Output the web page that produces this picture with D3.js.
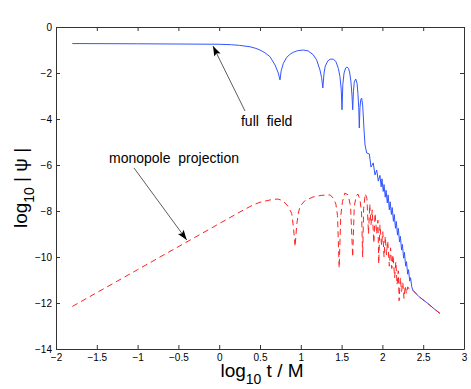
<!DOCTYPE html>
<html lang="en">
<head>
<meta charset="UTF-8">
<title>log10 |psi| vs log10 t/M</title>
<script src="https://cdn.jsdelivr.net/npm/d3@7/dist/d3.min.js"></script>
<style>
  body { margin: 0; background: #fff; }
  svg { display: block; font-family: "Liberation Sans", Arial, sans-serif; }
</style>
</head>
<body>
<script>
// full field curve as [log10 t/M, log10 |psi|]
const fullField = [
  [-1.8, -0.72], [-1.0, -0.73], [0.0, -0.75], [0.15, -0.77], [0.25, -0.8], [0.377, -0.86],
  [0.45, -0.93], [0.5, -1.0], [0.56, -1.12], [0.622, -1.29], [0.684, -1.65], [0.724, -2.0],
  [0.745, -2.3], [0.76, -1.9], [0.786, -1.58], [0.827, -1.32], [0.87, -1.18], [0.908, -1.1],
  [0.96, -1.03], [1.03, -1.0], [1.09, -1.04], [1.15, -1.2], [1.194, -1.43], [1.235, -1.87],
  [1.255, -2.2], [1.27, -2.65], [1.285, -2.0], [1.3, -1.7], [1.33, -1.48], [1.36, -1.4],
  [1.398, -1.4], [1.43, -1.5], [1.46, -1.8], [1.48, -2.16], [1.495, -2.7], [1.505, -3.6],
  [1.515, -2.5], [1.53, -2.0], [1.55, -1.78], [1.566, -1.74], [1.585, -1.8], [1.6, -2.0],
  [1.615, -2.4], [1.628, -3.0], [1.636, -3.6], [1.645, -2.8], [1.655, -2.4], [1.673, -2.26],
  [1.69, -2.45], [1.7, -2.9], [1.71, -3.5], [1.717, -4.39], [1.725, -3.5], [1.735, -3.15],
  [1.746, -3.09], [1.758, -3.4], [1.768, -4.0], [1.775, -4.48], [1.787, -5.13], [1.808, -5.48],
  [1.84, -5.52], [1.86, -6.09], [1.888, -5.91], [1.909, -6.43], [1.93, -6.22], [1.95, -6.7],
  [1.97, -6.45], [1.985, -6.95], [1.995, -6.6], [2.01, -7.15], [2.02, -6.85], [2.035, -7.4],
  [2.045, -7.1], [2.06, -7.65], [2.07, -7.3], [2.085, -7.95], [2.095, -7.6], [2.11, -8.15],
  [2.12, -7.85], [2.135, -8.45], [2.145, -8.15], [2.16, -8.75], [2.17, -8.45], [2.185, -9.05],
  [2.195, -8.75], [2.21, -9.35], [2.22, -9.1], [2.235, -9.7], [2.245, -9.45], [2.26, -10.05],
  [2.27, -9.8], [2.285, -10.4], [2.295, -10.2], [2.31, -10.75], [2.32, -10.55], [2.335, -11.05],
  [2.345, -10.9], [2.36, -11.3], [2.375, -11.45], [2.45, -11.73], [2.55, -12.0], [2.65, -12.3],
  [2.705, -12.45]
];

// monopole projection curve
const monopole = [
  [-1.8, -12.15], [-1.0, -10.55], [0.0, -8.55], [0.3, -7.95], [0.414, -7.74], [0.5, -7.62],
  [0.586, -7.55], [0.65, -7.5], [0.72, -7.48], [0.78, -7.55], [0.84, -7.78], [0.888, -8.1],
  [0.91, -8.7], [0.93, -9.55], [0.95, -8.6], [0.97, -8.1], [0.99, -7.8], [1.05, -7.55],
  [1.15, -7.39], [1.25, -7.32], [1.36, -7.3], [1.4, -7.45], [1.43, -7.7], [1.45, -8.2],
  [1.47, -10.48], [1.49, -8.2], [1.51, -7.6], [1.54, -7.22], [1.58, -7.3], [1.61, -7.8],
  [1.636, -10.0], [1.655, -7.8], [1.68, -7.35], [1.7, -7.26], [1.725, -7.5], [1.745, -8.1],
  [1.758, -10.0], [1.77, -7.9], [1.79, -7.25], [1.81, -7.45], [1.83, -9.0], [1.845, -7.7],
  [1.86, -8.6], [1.875, -7.95], [1.895, -9.4], [1.91, -8.1], [1.93, -9.0], [1.945, -8.4],
  [1.955, -10.3], [1.97, -8.6], [1.99, -9.5], [2.005, -8.9], [2.02, -10.0], [2.035, -9.1],
  [2.05, -9.9], [2.065, -9.3], [2.085, -10.4], [2.1, -9.6], [2.115, -10.5], [2.13, -9.9],
  [2.15, -10.9], [2.165, -10.2], [2.18, -11.2], [2.195, -10.6], [2.205, -11.9], [2.22, -10.9],
  [2.235, -11.5], [2.25, -11.1], [2.265, -11.8], [2.28, -11.25], [2.295, -11.6], [2.31, -11.3],
  [2.33, -11.4], [2.375, -11.45], [2.45, -11.73], [2.55, -12.0], [2.65, -12.3], [2.705, -12.45]
];

const xTicks = [-2, -1.5, -1, -0.5, 0, 0.5, 1, 1.5, 2, 2.5, 3];
const yTicks = [0, -2, -4, -6, -8, -10, -12, -14];

// annotations: [text x, text y], arrow [tail, tip], all in data units
const labels = [
  { text: "full\u00a0\u00a0field", pos: [0.267, -4.3], tail: [0.316, -3.65], tip: [-0.076, -0.83] },
  { text: "monopole\u00a0\u00a0projection", pos: [-1.35, -5.91], tail: [-1.044, -6.13], tip: [-0.398, -9.26] }
];

const W = 471, H = 389;
const margin = { top: 27, right: 7, bottom: 40, left: 56 };

const svg = d3.select("body").append("svg")
    .attr("width", W)
    .attr("height", H);

const x = d3.scaleLinear().domain([-2, 3]).range([margin.left, W - margin.right]);
const y = d3.scaleLinear().domain([-14, 0]).range([H - margin.bottom, margin.top]);

// arrow head
svg.append("defs").append("marker")
    .attr("id", "head")
    .attr("markerUnits", "userSpaceOnUse")
    .attr("viewBox", "-11 -4 12 8")
    .attr("markerWidth", 12)
    .attr("markerHeight", 8)
    .attr("refX", 0)
    .attr("refY", 0)
    .attr("orient", "auto")
  .append("path")
    .attr("d", "M0,0L-10,-3.5L-8,0L-10,3.5Z")
    .attr("fill", "#000");

const line = d3.line().x(d => x(d[0])).y(d => y(d[1]));

svg.append("path")
    .datum(fullField)
    .attr("fill", "none")
    .attr("stroke", "#3355ff")
    .attr("stroke-width", 1)
    .attr("d", line);

svg.append("path")
    .datum(monopole)
    .attr("fill", "none")
    .attr("stroke", "#ff2020")
    .attr("stroke-width", 1)
    .attr("stroke-dasharray", "6,4")
    .attr("d", line);

// axes, ticks pointing inward on all four sides
const fmt = d3.format("~g");
svg.append("g")
    .attr("transform", `translate(0,${H - margin.bottom})`)
    .call(d3.axisBottom(x).tickValues(xTicks).tickFormat(fmt).tickSize(-4).tickSizeOuter(0).tickPadding(5));
svg.append("g")
    .attr("transform", `translate(${margin.left},0)`)
    .call(d3.axisLeft(y).tickValues(yTicks).tickFormat(fmt).tickSize(-4).tickSizeOuter(0).tickPadding(4));
svg.append("g")
    .attr("transform", `translate(0,${margin.top})`)
    .call(d3.axisTop(x).tickValues(xTicks).tickSize(-4).tickSizeOuter(0).tickFormat(""));
svg.append("g")
    .attr("transform", `translate(${W - margin.right},0)`)
    .call(d3.axisRight(y).tickValues(yTicks).tickSize(-4).tickSizeOuter(0).tickFormat(""));

svg.selectAll(".domain").attr("stroke", "#333");
svg.selectAll(".tick line").attr("stroke", "#333");
svg.selectAll(".tick text")
    .attr("font-family", "'Liberation Sans', Arial, sans-serif")
    .attr("font-size", 10)
    .attr("fill", "#000");

// axis titles
const xt = svg.append("text")
    .attr("x", (x(-2) + x(3)) / 2 + 2)
    .attr("y", 377)
    .attr("text-anchor", "middle")
    .attr("font-size", 19);
xt.append("tspan").text("log");
xt.append("tspan").attr("font-size", 14).attr("dy", 7).text("10");
xt.append("tspan").attr("dy", -7).text(" t / M");

const yt = svg.append("text")
    .attr("transform", `translate(27,${(y(0) + y(-14)) / 2}) rotate(-90)`)
    .attr("text-anchor", "middle")
    .attr("font-size", 19);
yt.append("tspan").text("log");
yt.append("tspan").attr("font-size", 14).attr("dy", 7).text("10");
yt.append("tspan").attr("dy", -7).text(" | \u03c8 |");

// annotations
labels.forEach(a => {
  svg.append("line")
      .attr("x1", x(a.tail[0])).attr("y1", y(a.tail[1]))
      .attr("x2", x(a.tip[0])).attr("y2", y(a.tip[1]))
      .attr("stroke", "#333")
      .attr("stroke-width", 0.8)
      .attr("marker-end", "url(#head)");
  svg.append("text")
      .attr("x", x(a.pos[0]))
      .attr("y", y(a.pos[1]))
      .attr("font-size", 14)
      .attr("fill", "#000")
      .text(a.text);
});
</script>
</body>
</html>
